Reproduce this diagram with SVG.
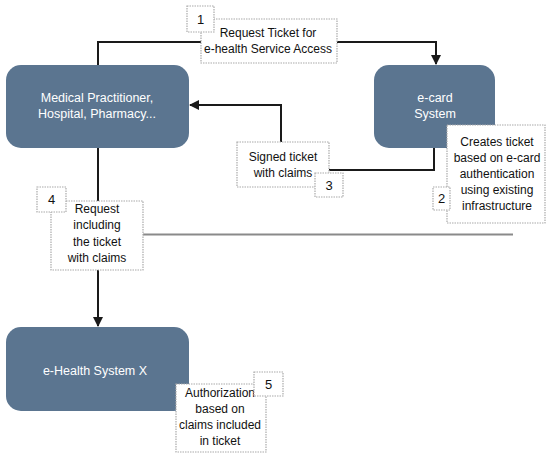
<svg xmlns="http://www.w3.org/2000/svg" width="552" height="460" viewBox="0 0 552 460">
<defs>
<style>
.node{fill:#5b7590;}
.nt{fill:#ffffff;font-family:"Liberation Sans",Arial,sans-serif;font-size:12.5px;text-anchor:middle;}
.lbl{fill:#ffffff;stroke:#aaaaaa;stroke-width:1.2;stroke-dasharray:1.5 1;}
.lt{fill:#111111;font-family:"Liberation Sans",Arial,sans-serif;font-size:12px;text-anchor:middle;}
.num{fill:#111111;font-family:"Liberation Sans",Arial,sans-serif;font-size:13px;text-anchor:middle;}
.conn{fill:none;stroke:#1a1a1a;stroke-width:2;}
</style>
<marker id="arr" markerWidth="10" markerHeight="10" refX="9" refY="5" orient="auto" markerUnits="userSpaceOnUse">
<path d="M0,0 L10,5 L0,10 z" fill="#1a1a1a"/>
</marker>
</defs>
<rect width="552" height="460" fill="#ffffff"/>
<g id="connectors">
<path class="conn" d="M98,65 V42 H436 V64" marker-end="url(#arr)"/>
<path class="conn" d="M434,148 V170 H281 V105 H190" marker-end="url(#arr)"/>
<path class="conn" d="M98,148 V326" marker-end="url(#arr)"/>
<line x1="143" y1="234.5" x2="513" y2="234.5" stroke="#8a8a8a" stroke-width="2"/>
</g>
<g id="medical">
<rect class="node" x="6" y="65" width="183" height="83" rx="15"/>
<text class="nt" x="97" y="102">Medical Practitioner,</text>
<text class="nt" x="97" y="118">Hospital, Pharmacy...</text>
</g>
<g id="ecard">
<rect class="node" x="374" y="65" width="121" height="83" rx="15"/>
<text class="nt" x="435" y="102">e-card</text>
<text class="nt" x="435" y="118">System</text>
</g>
<g id="ehealth">
<rect class="node" x="6" y="327" width="183" height="84" rx="15"/>
<text class="nt" x="95" y="375">e-Health System X</text>
</g>
<g id="label1">
<rect class="lbl" x="201" y="19" width="136" height="44"/>
<text class="lt" x="268" y="37">Request Ticket for</text>
<text class="lt" x="268" y="53">e-health Service Access</text>
<rect class="lbl" x="187" y="6" width="27" height="26"/>
<text class="num" x="200.5" y="24">1</text>
</g>
<g id="label2">
<rect class="lbl" x="447" y="125" width="98" height="98"/>
<text class="lt" x="497" y="146">Creates ticket</text>
<text class="lt" x="497" y="162">based on e-card</text>
<text class="lt" x="497" y="178">authentication</text>
<text class="lt" x="497" y="194">using existing</text>
<text class="lt" x="497" y="210">infrastructure</text>
<rect class="lbl" x="433" y="187" width="17" height="23"/>
</g>
<g id="label2num">
<text class="num" x="441.5" y="203">2</text>
</g>
<g id="label3">
<rect class="lbl" x="237" y="142" width="92" height="45"/>
<text class="lt" x="283" y="161">Signed ticket</text>
<text class="lt" x="283" y="177">with claims</text>
<rect class="lbl" x="315" y="173" width="28" height="24"/>
<text class="num" x="329" y="190">3</text>
</g>
<g id="label4">
<rect class="lbl" x="51" y="201" width="92" height="69"/>
<text class="lt" x="97" y="213">Request</text>
<text class="lt" x="97" y="229">including</text>
<text class="lt" x="97" y="246">the ticket</text>
<text class="lt" x="97" y="262">with claims</text>
<rect class="lbl" x="37" y="187" width="29" height="25"/>
<text class="num" x="51.5" y="204">4</text>
</g>
<g id="label5">
<rect class="lbl" x="176" y="384" width="90" height="68"/>
<text class="lt" x="220" y="397">Authorization</text>
<text class="lt" x="220" y="413">based on</text>
<text class="lt" x="220" y="429">claims included</text>
<text class="lt" x="220" y="445">in ticket</text>
<rect class="lbl" x="254" y="372" width="29" height="24"/>
<text class="num" x="268.5" y="389">5</text>
</g>
</svg>
